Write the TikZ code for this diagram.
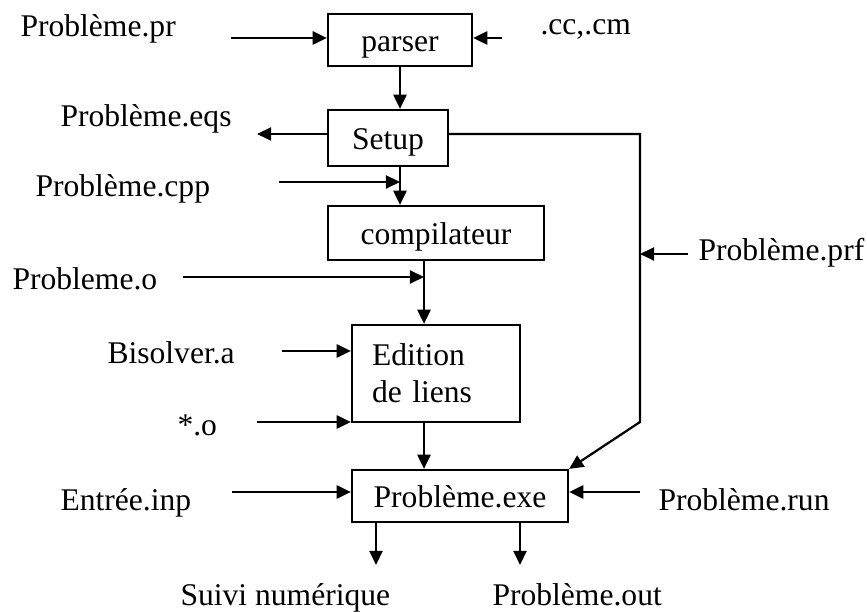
\documentclass[tikz,border=0pt]{standalone}
\usepackage{fontspec}
\setmainfont{Liberation Serif}
\usetikzlibrary{arrows.meta,positioning}

\begin{document}
\begin{tikzpicture}[
    x=0.38pt, y=-0.38pt,
    font=\fontsize{12}{14}\selectfont,
    box/.style 2 args={draw, line width=0.85pt, inner sep=0pt,
                minimum width=#1, minimum height=#2,
                text height=9.1pt, text depth=0pt},
    lbl/.style={anchor=base west, inner sep=0pt},
    arr/.style={-{Triangle[length=5.4pt, width=5pt]}, line width=0.85pt},
    wire/.style={line width=0.85pt}
  ]
    \useasboundingbox (0,0) rectangle (867,612);

    % Chaine de traitement
    \node[box={54.72pt}{19.76pt}] (parser) at (400,40) {parser};
    \node[box={45.6pt}{21.28pt}] (setup) at (388,138) {Setup};
    \node[box={82.08pt}{20.52pt}] (compil) at (436,233) {compilateur};
    \node[box={63.84pt}{36.86pt}, text height=, text depth=,
          text width=48.64pt, align=left] (edition) at (436,373.5) {Edition\\de liens};
    \node[box={82.08pt}{19.76pt}] (exe) at (460,496) {Problème.exe};

    % Fichiers
    \node[lbl] (lpr) at (20,37) {Problème.pr};
    \node[lbl] (lcc) at (540,35) {.cc,.cm};
    \node[lbl] (leqs) at (60,127) {Problème.eqs};
    \node[lbl] (lcpp) at (35,197) {Problème.cpp};
    \node[lbl] (lo) at (12,290) {Probleme.o};
    \node[lbl] (lprf) at (698,261) {Problème.prf};
    \node[lbl] (lbis) at (107,364) {Bisolver.a};
    \node[lbl] (lobj) at (177,436) {*.o};
    \node[lbl] (linp) at (60,510) {Entrée.inp};
    \node[lbl] (lrun) at (658,510) {Problème.run};
    \node[lbl] (lsuivi) at (180,605) {Suivi numérique};
    \node[lbl] (lout) at (492,605) {Problème.out};

    \coordinate (prin) at (231,38);
    \coordinate (ccin) at (502,38);
    \coordinate (eqsout) at (257,134);
    \coordinate (cppin) at (279,182);
    \coordinate (oin) at (183,277);
    \coordinate (lnk) at (424,277);
    \coordinate (bisin) at (282,351);
    \coordinate (objin) at (257,422);
    \coordinate (inpin) at (232,492);
    \coordinate (runin) at (640,492);
    \coordinate (prfin) at (688,254);
    \coordinate (bendA) at (640,134);
    \coordinate (bendB) at (640,422);
    \coordinate (suivi) at (376,565);
    \coordinate (outf) at (520,565);

    \draw[arr] (prin) -- (prin -| parser.west);
    \draw[arr] (ccin) -- (ccin -| parser.east);
    \draw[arr] (parser.south) -- (setup.north -| parser.south);
    \draw[arr] (eqsout -| setup.west) -- (eqsout);
    \draw[arr] (bendA -| setup.east) -- (bendA) -- (bendB) -- (exe.north east);
    \draw[arr] (setup.south -| parser.south) -- (compil.north -| parser.south);
    \draw[arr] (cppin) -- (cppin -| parser.south);
    \draw[wire] (compil.south -| lnk) -- (lnk);
    \draw[arr] (oin) -- (lnk);
    \draw[arr] (lnk) -- (edition.north -| lnk);
    \draw[arr] (prfin) -- (prfin -| bendA);
    \draw[arr] (bisin) -- (bisin -| edition.west);
    \draw[arr] (objin) -- (objin -| edition.west);
    \draw[arr] (edition.south -| lnk) -- (exe.north -| lnk);
    \draw[arr] (inpin) -- (inpin -| exe.west);
    \draw[arr] (runin) -- (runin -| exe.east);
    \draw[arr] (exe.south -| suivi) -- (suivi);
    \draw[arr] (exe.south -| outf) -- (outf);
  \end{tikzpicture}
\end{document}
